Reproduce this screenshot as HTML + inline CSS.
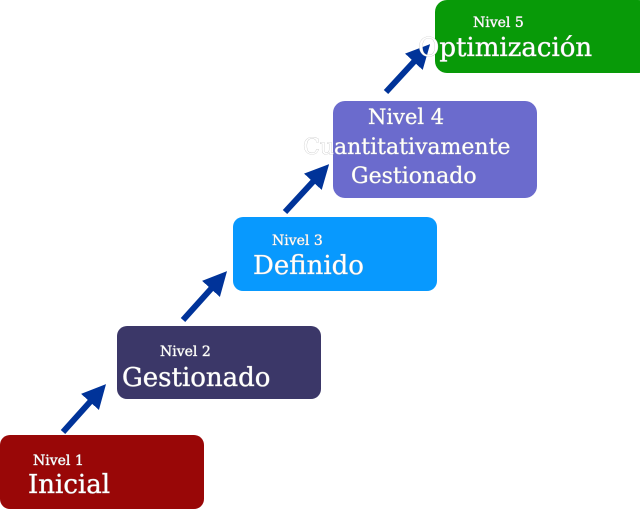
<!DOCTYPE html>
<html><head><meta charset="utf-8"><style>
html,body{margin:0;padding:0;background:#fff;width:640px;height:510px;overflow:hidden}
svg{display:block}
text{font-family:"DejaVu Serif","Liberation Serif",serif;fill:#fff;stroke:#bbb;stroke-width:0.6;paint-order:stroke}
</style></head><body>
<svg width="640" height="510" viewBox="0 0 640 510">
<defs><marker id="ah" markerWidth="4" markerHeight="4" refX="2" refY="2" orient="auto" markerUnits="strokeWidth"><path d="M0,0 L4,2 L0,4 Z" fill="#003399"/></marker></defs>
<g stroke="#003399" fill="none">
<line x1="63" y1="432" x2="98" y2="393" marker-end="url(#ah)" stroke-width="6"/>
<line x1="183" y1="320" x2="219" y2="280" marker-end="url(#ah)" stroke-width="6"/>
<line x1="285" y1="212" x2="321" y2="173" marker-end="url(#ah)" stroke-width="6"/>
<line x1="386" y1="92" x2="422" y2="53" marker-end="url(#ah)" stroke-width="6"/>
</g>
<rect x="0" y="435" width="204" height="74" rx="10" fill="#990707"/>
<rect x="117" y="326" width="204" height="73" rx="10" fill="#3b3768"/>
<rect x="233" y="217" width="204" height="74" rx="10" fill="#0899fe"/>
<rect x="333" y="101" width="204" height="97" rx="12" fill="#6b6bcd"/>
<rect x="435" y="0" width="215" height="73" rx="12" fill="#089a08"/>
<text x="33" y="465" font-size="14">Nivel 1</text>
<text x="28" y="493" font-size="26">Inicial</text>
<text x="160" y="356" font-size="14">Nivel 2</text>
<text x="122" y="386" font-size="26">Gestionado</text>
<text x="272" y="245" font-size="14">Nivel 3</text>
<text x="253" y="274" font-size="26">Definido</text>
<text x="368" y="124" font-size="21">Nivel 4</text>
<text x="303" y="154" font-size="22">Cuantitativamente</text>
<text x="351" y="183" font-size="22">Gestionado</text>
<text x="473" y="27" font-size="14">Nivel 5</text>
<text x="418" y="56" font-size="26">Optimización</text>
</svg>
</body></html>
